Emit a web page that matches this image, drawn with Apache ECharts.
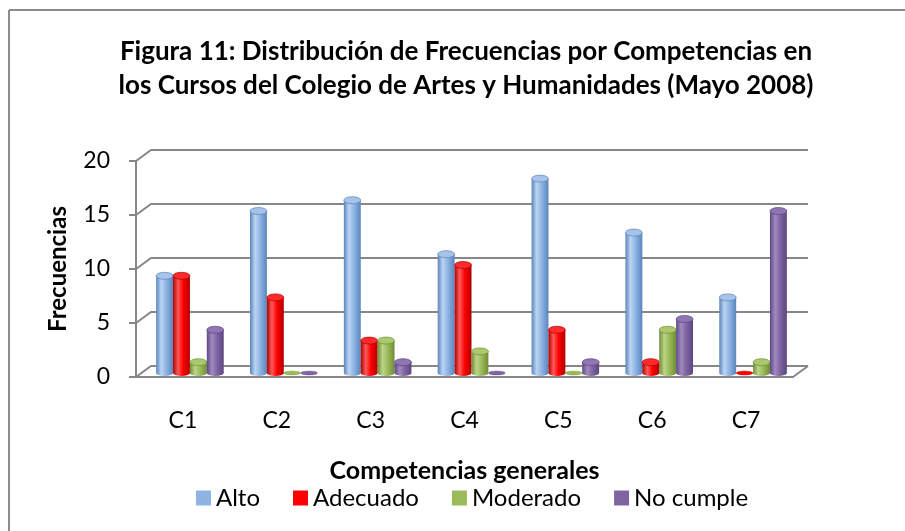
<!DOCTYPE html>
<html>
<head>
<meta charset="utf-8">
<script src="https://cdn.jsdelivr.net/npm/echarts@6/dist/echarts.min.js"></script>
<style>
  html, body { margin: 0; padding: 0; background: #fff; }
  #chart { width: 905px; height: 531px; }
</style>
</head>
<body>
<div id="chart"></div>
<script>
// datos de la figura
var categories = ['C1', 'C2', 'C3', 'C4', 'C5', 'C6', 'C7'];
var alto = [9, 15, 16, 11, 18, 13, 7];
var adecuado = [9, 7, 3, 10, 4, 1, 0];
var moderado = [1, 0, 3, 2, 0, 4, 1];
var noCumple = [4, 0, 1, 0, 1, 5, 15];
var yTicks = [0, 5, 10, 15, 20];

var FONT = 'Lato, "Liberation Sans", sans-serif';
var GRAY = '#878787';
// desplazamiento de la pared del fondo (efecto 3D)
var DX = 15, DY = -11;

var levels = [
    { name: 'Alto', data: alto, color: '#8db4e3', edge: '#5a84bb', light: '#bcd4f2', top: '#a6c3ea' },
    { name: 'Adecuado', data: adecuado, color: '#ff0000', edge: '#b00000', light: '#ff5a5a', top: '#ff2a2a' },
    { name: 'Moderado', data: moderado, color: '#9bbb59', edge: '#6f8c37', light: '#bcd488', top: '#aac86c' },
    { name: 'No cumple', data: noCumple, color: '#8064a2', edge: '#5c4680', light: '#a08bc0', top: '#8f75b2' }
];

function ellipse(cx, cy, rx, ry, style) {
    return {
        type: 'circle',
        shape: { cx: 0, cy: 0, r: rx },
        x: cx, y: cy,
        scaleY: ry / rx,
        style: style
    };
}

function barRenderer(k, lv) {
    return function (params, api) {
        var idx = api.value(0), v = api.value(1);
        var top = api.coord([idx, v]);
        var base = api.coord([idx, 0]);
        var band = api.size([1, 0])[0];
        var bw = band * 0.18;
        var cx = base[0] + (k - 1.5) * bw + 7;
        var x0 = cx - bw / 2;
        var yb = base[1] - 4;
        var yt = top[1] - 4;
        var grad = new echarts.graphic.LinearGradient(0, 0, 1, 0, [
            { offset: 0, color: lv.edge },
            { offset: 0.3, color: lv.light },
            { offset: 0.6, color: lv.color },
            { offset: 1, color: lv.edge }
        ]);
        if (v === 0) {
            return { type: 'group', children: [
                ellipse(cx, yb, bw / 2, 2, { fill: lv.color, stroke: lv.edge, lineWidth: 0.5 })
            ] };
        }
        return {
            type: 'group',
            children: [
                ellipse(cx, yb, bw / 2, 3, { fill: grad }),
                { type: 'rect', shape: { x: x0, y: yt, width: bw, height: yb - yt }, style: { fill: grad } },
                ellipse(cx, yt, bw / 2, 3.5, { fill: lv.top, stroke: lv.edge, lineWidth: 1 })
            ]
        };
    };
}

var series = [{
    type: 'custom',
    silent: true,
    z: 1,
    data: yTicks.map(function (v) { return [0, v]; }),
    renderItem: function (params, api) {
        var cs = params.coordSys;
        var y = api.coord([0, api.value(1)])[1];
        var kids = [{
            type: 'polyline',
            shape: { points: [[cs.x, y], [cs.x + DX, y + DY], [cs.x + cs.width + DX, y + DY]] },
            style: { stroke: GRAY, lineWidth: 2, fill: null }
        }];
        if (api.value(1) === 0) {
            kids.push({
                type: 'line',
                shape: { x1: cs.x + cs.width, y1: y, x2: cs.x + cs.width + DX, y2: y + DY },
                style: { stroke: GRAY, lineWidth: 2 }
            });
        }
        return { type: 'group', children: kids };
    }
}];

levels.forEach(function (lv, k) {
    series.push({
        name: lv.name,
        type: 'custom',
        z: 3,
        itemStyle: { color: lv.color },
        data: lv.data.map(function (v, i) { return [i, v]; }),
        renderItem: barRenderer(k, lv)
    });
});

var chart = echarts.init(document.getElementById('chart'));
chart.setOption({
    backgroundColor: '#fff',
    animation: false,
    title: {
        text: 'Figura 11: Distribución de Frecuencias por Competencias en\nlos Cursos del Colegio de Artes y Humanidades (Mayo 2008)',
        left: 461,
        top: 30,
        textAlign: 'center',
        textStyle: { fontFamily: FONT, fontSize: 26, fontWeight: 'bold', color: '#000', lineHeight: 34 }
    },
    legend: {
        data: levels.map(function (l) { return l.name; }),
        left: 191,
        top: 481,
        icon: 'rect',
        itemWidth: 15,
        itemHeight: 15,
        itemGap: 33,
        textStyle: { fontFamily: FONT, fontSize: 24, color: '#000' }
    },
    grid: { left: 136, right: 112, top: 161, bottom: 154 },
    xAxis: {
        type: 'category',
        data: categories,
        name: 'Competencias generales',
        nameLocation: 'middle',
        nameGap: 81,
        nameTextStyle: { fontFamily: FONT, fontSize: 25, fontWeight: 'bold', color: '#000' },
        axisLine: { lineStyle: { color: GRAY, width: 2 } },
        axisTick: { length: 8, lineStyle: { color: GRAY, width: 2 } },
        axisLabel: { margin: 32, fontFamily: FONT, fontSize: 23, color: '#000' }
    },
    yAxis: {
        type: 'value',
        min: 0,
        max: 20,
        interval: 5,
        name: 'Frecuencias',
        nameLocation: 'middle',
        nameGap: 66,
        nameTextStyle: { fontFamily: FONT, fontSize: 24, fontWeight: 'bold', color: '#000' },
        axisLine: { show: true, lineStyle: { color: GRAY, width: 2 } },
        axisTick: { show: true, length: 7, lineStyle: { color: GRAY, width: 2 } },
        splitLine: { show: false },
        axisLabel: { margin: 26, fontFamily: FONT, fontSize: 23, color: '#000' }
    },
    graphic: [
        { type: 'line', shape: { x1: 9, y1: 10, x2: 905, y2: 10 }, style: { stroke: '#8c8c8c', lineWidth: 2 } },
        { type: 'line', shape: { x1: 9, y1: 10, x2: 9, y2: 531 }, style: { stroke: '#8c8c8c', lineWidth: 2 } }
    ],
    series: series
});
</script>
</body>
</html>
